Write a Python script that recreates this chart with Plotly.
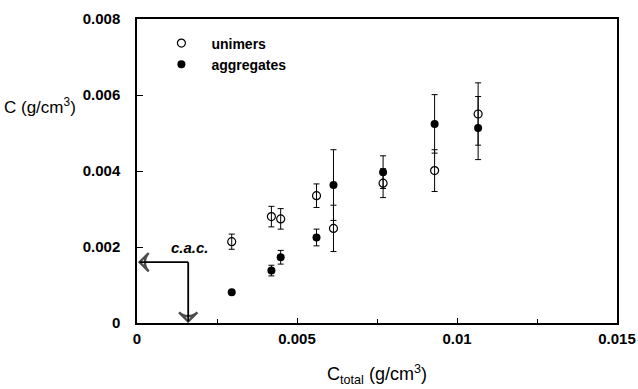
import plotly.graph_objects as go

# Total polymer concentration (g/cm^3)
c_total = [0.00296, 0.0042, 0.00449, 0.00561, 0.00614, 0.00769, 0.0093, 0.01066]

# Unimer concentration and its uncertainty
c_unimers = [0.00214, 0.0028, 0.00274, 0.00335, 0.00249, 0.00368, 0.00401, 0.0055]
err_unimers = [0.0002, 0.00027, 0.00027, 0.00031, 0.00061, 0.00038, 0.00055, 0.00082]

# Aggregate concentration and its uncertainty
c_aggregates = [0.00081, 0.00138, 0.00173, 0.00225, 0.00363, 0.00397, 0.00524, 0.00513]
err_aggregates = [0.00003, 0.00014, 0.00018, 0.00022, 0.00093, 0.00043, 0.00077, 0.00083]

# Critical aggregation concentration
cac = 0.0016

FONT = "Liberation Sans, Arial, sans-serif"

fig = go.Figure()

fig.add_trace(go.Scatter(
    x=c_total, y=c_unimers, mode="markers", name="<b>unimers</b>",
    marker=dict(symbol="circle-open", size=8, color="black", line=dict(width=1.2)),
    error_y=dict(type="data", array=err_unimers, visible=True,
                 color="black", thickness=1, width=3),
))
fig.add_trace(go.Scatter(
    x=c_total, y=c_aggregates, mode="markers", name="<b>aggregates</b>",
    marker=dict(symbol="circle", size=8, color="black"),
    error_y=dict(type="data", array=err_aggregates, visible=True,
                 color="black", thickness=1, width=3),
))

# c.a.c. arrows from the crossing point to each axis
arrow_style = dict(mode="lines+markers", showlegend=False, hoverinfo="skip",
                   line=dict(color="black", width=1.8))
arrow_marker = dict(symbol="arrow-wide-open", angleref="previous", size=[0, 13],
                    color="black", line=dict(width=2.4, color="black"))
fig.add_trace(go.Scatter(x=[cac, 0.00008], y=[cac, cac], marker=arrow_marker, **arrow_style))
fig.add_trace(go.Scatter(x=[cac, cac], y=[cac, 0.00004], marker=arrow_marker, **arrow_style))
fig.add_annotation(x=cac + 0.00007, y=cac + 0.0004, xref="x", yref="y", showarrow=False,
                   text="<b><i>c.a.c.</i></b>", font=dict(family=FONT, size=15, color="black"))

# y-axis title, placed horizontally at the upper left
fig.add_annotation(x=-0.282, y=0.0057, xref="paper", yref="y", xanchor="left",
                   showarrow=False, text="C (g/cm<sup>3</sup>)",
                   font=dict(family=FONT, size=17, color="black"))

fig.update_xaxes(range=[0, 0.015], tickvals=[0, 0.005, 0.01, 0.015],
                 ticktext=["<b>0</b>", "<b>0.005</b>", "<b>0.01</b>", "<b>0.015</b>"],
                 ticks="inside", ticklen=5, tickcolor="black", ticklabelstandoff=1,
                 minor=dict(dtick=0.0025, ticks="inside", ticklen=4, tickcolor="black"),
                 showline=True, linecolor="black", linewidth=1.5, mirror=True,
                 showgrid=False, zeroline=False, automargin=False,
                 tickfont=dict(family=FONT, size=15, color="black"),
                 title=dict(text="C<sub>total</sub> (g/cm<sup>3</sup>)",
                            font=dict(family=FONT, size=18, color="black"), standoff=22))
fig.update_yaxes(range=[0, 0.008], tickvals=[0, 0.002, 0.004, 0.006, 0.008],
                 ticktext=["<b>0</b>", "<b>0.002</b>", "<b>0.004</b>", "<b>0.006</b>", "<b>0.008</b>"],
                 ticks="inside", ticklen=6, tickcolor="black", ticklabelstandoff=12,
                 showline=True, linecolor="black", linewidth=1.5, mirror=True,
                 showgrid=False, zeroline=False, automargin=False,
                 tickfont=dict(family=FONT, size=15, color="black"))

fig.update_layout(
    width=638, height=389,
    margin=dict(l=137, r=21, t=19, b=66),
    paper_bgcolor="white", plot_bgcolor="white",
    showlegend=True,
    legend=dict(x=0.03, y=0.972, xanchor="left", yanchor="top",
                bgcolor="rgba(0,0,0,0)", font=dict(family=FONT, size=14, color="black"),
                itemwidth=50, tracegroupgap=0),
)

fig.write_html("out.html")
